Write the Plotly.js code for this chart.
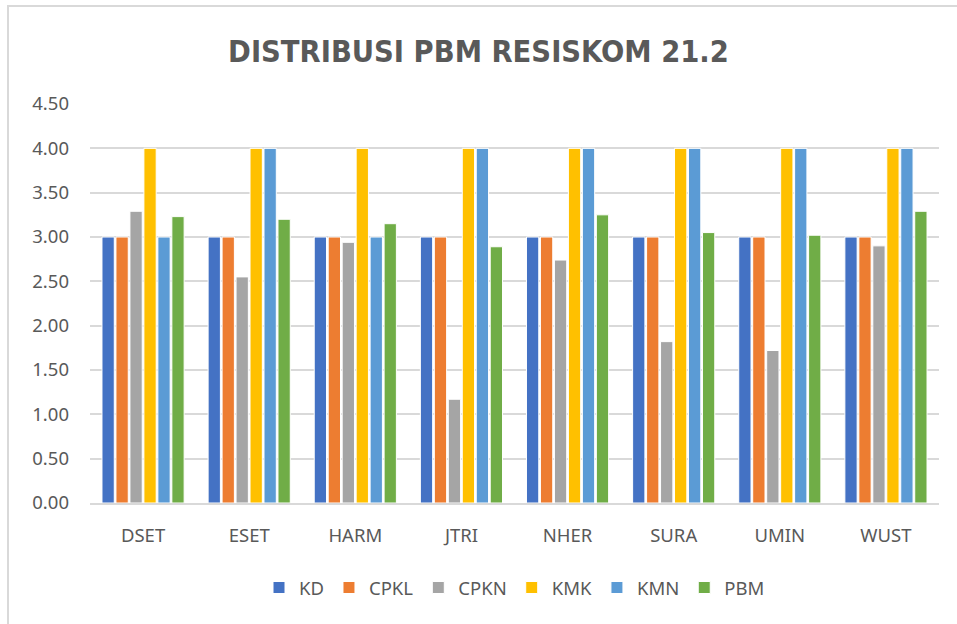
<!DOCTYPE html>
<html><head><meta charset="utf-8">
<script src="https://cdn.plot.ly/plotly-3.0.1.min.js"></script>
<style>body{margin:0;background:#fff}#c{width:957px;height:624px}</style>
</head><body><div id="c"></div>
<script>
const categories = ["DSET","ESET","HARM","JTRI","NHER","SURA","UMIN","WUST"];
const KD   = [3,3,3,3,3,3,3,3];
const CPKL = [3,3,3,3,3,3,3,3];
const CPKN = [3.29,2.55,2.94,1.17,2.74,1.82,1.72,2.90];
const KMK  = [4,4,4,4,4,4,4,4];
const KMN  = [3,4,3,4,4,4,4,4];
const PBM  = [3.23,3.20,3.15,2.89,3.25,3.05,3.02,3.29];
const seriesNames = ["KD","CPKL","CPKN","KMK","KMN","PBM"];
const seriesVals = [KD,CPKL,CPKN,KMK,KMN,PBM];
const colors = ["#4472C4","#ED7D31","#A5A5A5","#FFC000","#5B9BD5","#70AD47"];
const traces = seriesNames.map((n,i)=>({type:"bar",name:n,x:categories,y:seriesVals[i],
  marker:{color:colors[i],line:{color:"#ffffff",width:1}}}));
const layout = {
  width:957,height:624,paper_bgcolor:"#fff",plot_bgcolor:"#fff",
  margin:{l:90,r:18,t:104,b:121},
  font:{family:"Noto Sans, sans-serif",color:"#595959",size:18.5},
  title:{text:"<b>DISTRIBUSI PBM RESISKOM 21.2</b>",x:0.5,xanchor:"center",y:0.917,yanchor:"middle",
    font:{family:"DejaVu Sans Condensed, sans-serif",size:30.5,color:"#595959"}},
  barmode:"group",bargap:0.21,bargroupgap:0.12,
  xaxis:{showgrid:false,ticks:"",showline:true,linecolor:"#d9d9d9",linewidth:1.5,ticklabelstandoff:15,tickfont:{size:18.5,color:"#595959"}},
  yaxis:{range:[0,4.5],dtick:0.5,tickformat:".2f",gridcolor:"#d9d9d9",gridwidth:1.5,zeroline:false,
    ticks:"",ticklabelstandoff:20,tickfont:{size:18.5,color:"#595959"},automargin:false},
  legend:{orientation:"h",x:0.5,xanchor:"center",y:-0.213,yanchor:"middle",font:{size:18.5,color:"#595959"},itemwidth:30,traceorder:"normal"},
  shapes:[{type:"rect",xref:"paper",yref:"paper",x0:-0.0966,x1:1.04,y0:-0.32,y1:1.2456,line:{color:"#d9d9d9",width:2}}]
};
Plotly.newPlot("c",traces,layout,{displayModeBar:false});
</script></body></html>
